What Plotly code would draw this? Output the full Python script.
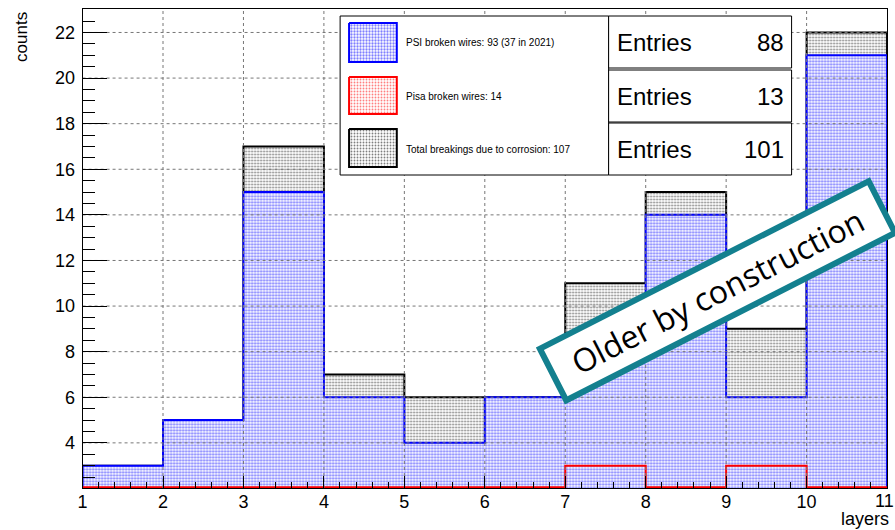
import numpy as np
import plotly.graph_objects as go

# ---- histogram data (10 unit-wide bins over layers 1..11) ----
bin_edges = list(range(1, 12))
psi_counts = [3, 5, 15, 6, 4, 6, 8, 14, 6, 21]
pisa_counts = [0, 0, 0, 0, 0, 0, 3, 0, 3, 0]
total_counts = [3, 5, 17, 7, 6, 6, 11, 15, 9, 22]

x_tick_vals = list(range(1, 12))
y_tick_vals = [4, 6, 8, 10, 12, 14, 16, 18, 20, 22]

legend_labels = [
    "PSI broken wires: 93 (37 in 2021)",
    "Pisa broken wires: 14",
    "Total breakings due to corrosion: 107",
]
entries_values = [88, 13, 101]
note_text = "Older by construction"

# ---- frame geometry (pixels) ----
W, H = 895, 530
FX0, FX1 = 78, 887
FY0, FY1 = 9, 488
Y_LO, Y_HI = 2.02, 23.03
X_LO, X_HI = 1, 11

BASE = "Liberation Sans, Arial, Helvetica, sans-serif"

blue_pat = dict(shape=".", fgcolor="#0000ff", bgcolor="white", size=3, solidity=0.45)
gray_pat = dict(shape=".", fgcolor="#000000", bgcolor="white", size=3, solidity=0.3)
red_pat = dict(shape=".", fgcolor="#ff0000", bgcolor="white", size=3, solidity=0.3)


def step_path(edges, counts, floor):
    """Outline of a histogram as an hv-step path, clipped at the frame floor."""
    c = np.maximum(np.asarray(counts, dtype=float), floor)
    xs = [edges[0]] + list(edges[:-1]) + [edges[-1], edges[-1]]
    ys = [floor] + list(c) + [c[-1], floor]
    return xs, ys


fig = go.Figure()

# total (grey) below, PSI (blue) on top, Pisa outline (red) last
tx, ty = step_path(bin_edges, total_counts, Y_LO)
fig.add_trace(go.Scatter(x=tx, y=ty, mode="lines", line=dict(color="black", width=2, shape="hv"),
                         fill="toself", fillcolor="white", fillpattern=gray_pat, hoverinfo="skip"))
px_, py_ = step_path(bin_edges, psi_counts, Y_LO)
fig.add_trace(go.Scatter(x=px_, y=py_, mode="lines", line=dict(color="#0000ff", width=2, shape="hv"),
                         fill="toself", fillcolor="white", fillpattern=blue_pat, hoverinfo="skip"))
rx, ry = step_path(bin_edges, pisa_counts, Y_LO + 0.03)
fig.add_trace(go.Scatter(x=rx, y=ry, mode="lines", line=dict(color="#ff0000", width=2, shape="hv"),
                         hoverinfo="skip"))

# dotted grid drawn over the filled histograms
gx, gy = [], []
for v in x_tick_vals[1:-1]:
    gx += [v, v, None]
    gy += [Y_LO, Y_HI, None]
for v in y_tick_vals:
    gx += [X_LO, X_HI, None]
    gy += [v, v, None]
fig.add_trace(go.Scatter(x=gx, y=gy, mode="lines", line=dict(color="#777777", width=1, dash="dot"),
                         hoverinfo="skip"))


# ---- legend panel in pixel coordinates (overlay subplot) ----
def rect(x0, y0, x1, y1, line_color, lw, pattern=None):
    kw = dict(fill="toself", fillcolor="white")
    if pattern is not None:
        kw["fillpattern"] = pattern
    fig.add_trace(go.Scatter(x=[x0, x1, x1, x0, x0], y=[y0, y0, y1, y1, y0], mode="lines",
                             line=dict(color=line_color, width=lw), xaxis="x2", yaxis="y2",
                             hoverinfo="skip", **kw))


rect(337, 16, 607, 175, "black", 1)
swatches = [((346, 23, 394, 62), "#0000ff", blue_pat),
            ((346, 77, 394, 114), "#ff0000", red_pat),
            ((346, 129, 394, 167), "black", gray_pat)]
for (x0, y0, x1, y1), col, pat in swatches:
    rect(x0, y0, x1, y1, col, 2, pat)

stat_boxes = [(16, 68), (70, 122), (123, 175)]
for y0, y1 in stat_boxes:
    rect(607, y0, 791, y1, "black", 1)

annotations = []
label_rows = [42, 96, 149]
for lab, yc in zip(legend_labels, label_rows):
    annotations.append(dict(x=401, y=yc, xref="x2", yref="y2", text=lab, showarrow=False,
                            xanchor="left", yanchor="middle", font=dict(family=BASE, size=10, color="black")))
for val, (y0, y1) in zip(entries_values, stat_boxes):
    yc = (y0 + y1) / 2
    annotations.append(dict(x=613, y=yc, xref="x2", yref="y2", text="Entries", showarrow=False,
                            xanchor="left", yanchor="middle", font=dict(family=BASE, size=24, color="black")))
    annotations.append(dict(x=785, y=yc, xref="x2", yref="y2", text=str(val), showarrow=False,
                            xanchor="right", yanchor="middle", font=dict(family=BASE, size=24, color="black")))

axis_font = dict(family=BASE, size=18, color="black")

# last x tick label sits at the right edge of the canvas; keep it inside
annotations.append(dict(x=895, y=501, xref="x2", yref="y2", text=str(x_tick_vals[-1]), showarrow=False,
                        xanchor="right", yanchor="middle", borderpad=0, font=axis_font))

# axis titles
annotations.append(dict(x=16, y=37, xref="x2", yref="y2", text="counts", showarrow=False, textangle=-90,
                        xanchor="center", yanchor="middle", font=dict(family=BASE, size=17, color="black")))
annotations.append(dict(x=891, y=519, xref="x2", yref="y2", text="layers", showarrow=False,
                        xanchor="right", yanchor="middle", font=dict(family=BASE, size=18, color="black")))

# rotated call-out box
annotations.append(dict(x=716, y=291, xref="x2", yref="y2", text=note_text, showarrow=False,
                        textangle=-27, font=dict(family="Open Sans, Noto Sans, sans-serif", size=32, color="black"),
                        bgcolor="white", bordercolor="#13808f", borderwidth=6, borderpad=0,
                        width=363, height=52, align="center", xanchor="center", yanchor="middle"))

fig.update_layout(
    width=W, height=H,
    margin=dict(l=0, r=0, t=0, b=0),
    paper_bgcolor="white",
    plot_bgcolor="rgba(0,0,0,0)",
    showlegend=False,
    annotations=annotations,
    xaxis=dict(domain=[FX0 / W, FX1 / W], range=[X_LO, X_HI], tickvals=x_tick_vals[:-1],
               ticks="inside", ticklen=12, tickcolor="black", tickwidth=1,
               minor=dict(dtick=0.2, ticks="inside", ticklen=6, tickcolor="black"),
               showline=True, mirror=True, linecolor="black", linewidth=1,
               showgrid=False, zeroline=False, tickfont=axis_font, layer="above traces",
               ticklabelstandoff=-3, fixedrange=True),
    yaxis=dict(domain=[1 - FY1 / H, 1 - FY0 / H], range=[Y_LO, Y_HI], tickvals=y_tick_vals,
               ticks="inside", ticklen=24, tickcolor="black", tickwidth=1,
               minor=dict(dtick=0.5, ticks="inside", ticklen=12, tickcolor="black"),
               showline=True, mirror=True, linecolor="black", linewidth=1,
               showgrid=False, zeroline=False, tickfont=axis_font, layer="above traces",
               ticklabelstandoff=3, fixedrange=True),
    xaxis2=dict(domain=[0, 1], range=[0, W], anchor="y2", visible=False, fixedrange=True),
    yaxis2=dict(domain=[0, 1], range=[H, 0], anchor="x2", visible=False, fixedrange=True),
)

fig.write_html("out.html")
